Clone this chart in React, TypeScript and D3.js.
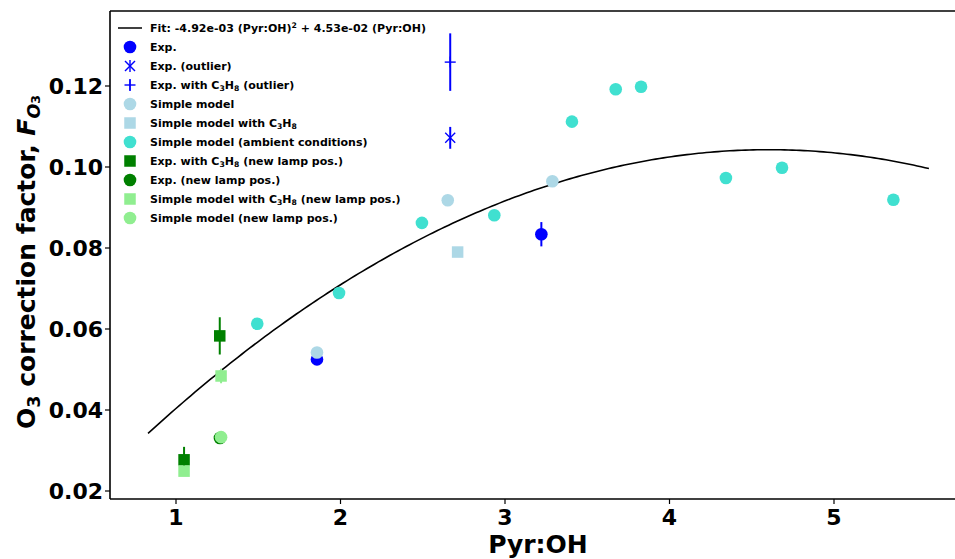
import React from "react";
import * as d3 from "d3";

// ---- data ----
const fitA = -4.92e-3;
const fitB = 4.53e-2;
const fitXRange = [0.83, 5.577];

const expX = [1.857, 3.221];
const expY = [0.0525, 0.0834];
const expErr = [0, 0.003];

const outlierX = [2.667];
const outlierY = [0.1072];
const outlierErr = [0.0027];

const outlierC3H8X = [2.667];
const outlierC3H8Y = [0.1259];
const outlierC3H8Err = [0.0071];

const simpleX = [1.857, 2.652, 3.288];
const simpleY = [0.0542, 0.0918, 0.0965];

const simpleC3H8X = [2.712];
const simpleC3H8Y = [0.079];

const ambientX = [1.494, 1.991, 2.495, 2.935, 3.407, 3.673, 3.827, 4.343, 4.684, 5.361];
const ambientY = [0.0613, 0.0689, 0.0862, 0.0881, 0.1112, 0.1192, 0.1198, 0.0973, 0.0998, 0.0919];

const expC3H8NewX = [1.049, 1.266];
const expC3H8NewY = [0.0277, 0.0583];
const expC3H8NewErr = [0.0032, 0.0046];

const expNewX = [1.267];
const expNewY = [0.0331];

const simpleC3H8NewX = [1.049, 1.274];
const simpleC3H8NewY = [0.0249, 0.0484];
const simpleC3H8NewErr = [0, 0.0018];

const simpleNewX = [1.274];
const simpleNewY = [0.0333];

const xTicks = [1, 2, 3, 4, 5];
const yTicks = [0.02, 0.04, 0.06, 0.08, 0.1, 0.12];

// ---- layout ----
const W = 955;
const H = 559;
const left = 110;
const top = 11;
const bottom = 499;
const right = 955;

const x = d3.scaleLinear().domain([1, 5]).range([176, 834]);
const y = d3.scaleLinear().domain([0.02, 0.12]).range([491, 86]);

const BLUE = "#0000ff";
const LIGHTBLUE = "#add8e6";
const TURQ = "#40e0d0";
const GREEN = "#008000";
const LIGHTGREEN = "#90ee90";

const FONT = "'DejaVu Sans', sans-serif";
const R = 6.3;
const SQ = 11.5;

function Circle({ cx, cy, color }: any) {
  return <circle cx={cx} cy={cy} r={R} fill={color} />;
}
function Square({ cx, cy, color }: any) {
  return <rect x={cx - SQ / 2} y={cy - SQ / 2} width={SQ} height={SQ} fill={color} />;
}
function XMark({ cx, cy, color }: any) {
  const s = 5;
  return (
    <g stroke={color} strokeWidth={1.4}>
      <line x1={cx - s} y1={cy - s} x2={cx + s} y2={cy + s} />
      <line x1={cx - s} y1={cy + s} x2={cx + s} y2={cy - s} />
    </g>
  );
}
function PlusMark({ cx, cy, color }: any) {
  const s = 5.5;
  return (
    <g stroke={color} strokeWidth={1.4}>
      <line x1={cx - s} y1={cy} x2={cx + s} y2={cy} />
      <line x1={cx} y1={cy - s} x2={cx} y2={cy + s} />
    </g>
  );
}
function ErrBar({ xv, yv, e, color }: any) {
  if (!e) return null;
  return (
    <line x1={x(xv)} x2={x(xv)} y1={y(yv - e)} y2={y(yv + e)} stroke={color} strokeWidth={2} />
  );
}

function Sub({ children }: any) {
  return (
    <tspan baselineShift="-25%" fontSize="70%">
      {children}
    </tspan>
  );
}

function C3H8() {
  return (
    <>
      <tspan>C</tspan>
      <Sub>3</Sub>
      <tspan>H</tspan>
      <Sub>8</Sub>
    </>
  );
}

export default function App() {
  const fitPts = d3.range(0, 201).map((i) => {
    const xv = fitXRange[0] + ((fitXRange[1] - fitXRange[0]) * i) / 200;
    return [xv, fitA * xv * xv + fitB * xv] as [number, number];
  });
  const line = d3
    .line<[number, number]>()
    .x((d) => x(d[0]))
    .y((d) => y(d[1]));

  const legendItems: { key: string; label: React.ReactNode; handle: (cx: number, cy: number) => React.ReactNode }[] = [
    {
      key: "fit",
      label: (
        <>
          <tspan>Fit: -4.92e-03 (Pyr:OH)</tspan>
          <tspan baselineShift="super" fontSize="70%">2</tspan>
          <tspan> + 4.53e-02 (Pyr:OH)</tspan>
        </>
      ),
      handle: (cx, cy) => <line x1={cx - 12} x2={cx + 12} y1={cy} y2={cy} stroke="#000" strokeWidth={1.5} />,
    },
    { key: "exp", label: "Exp.", handle: (cx, cy) => <Circle cx={cx} cy={cy} color={BLUE} /> },
    {
      key: "out",
      label: "Exp. (outlier)",
      handle: (cx, cy) => (
        <g>
          <line x1={cx} x2={cx} y1={cy - 6} y2={cy + 6} stroke={BLUE} strokeWidth={1.4} />
          <XMark cx={cx} cy={cy} color={BLUE} />
        </g>
      ),
    },
    {
      key: "outc",
      label: (
        <>
          <tspan>Exp. with </tspan>
          <C3H8 />
          <tspan> (outlier)</tspan>
        </>
      ),
      handle: (cx, cy) => (
        <g>
          <line x1={cx} x2={cx} y1={cy - 6} y2={cy + 6} stroke={BLUE} strokeWidth={1.4} />
          <PlusMark cx={cx} cy={cy} color={BLUE} />
        </g>
      ),
    },
    { key: "sm", label: "Simple model", handle: (cx, cy) => <Circle cx={cx} cy={cy} color={LIGHTBLUE} /> },
    {
      key: "smc",
      label: (
        <>
          <tspan>Simple model with </tspan>
          <C3H8 />
        </>
      ),
      handle: (cx, cy) => <Square cx={cx} cy={cy} color={LIGHTBLUE} />,
    },
    {
      key: "amb",
      label: "Simple model (ambient conditions)",
      handle: (cx, cy) => <Circle cx={cx} cy={cy} color={TURQ} />,
    },
    {
      key: "ecn",
      label: (
        <>
          <tspan>Exp. with </tspan>
          <C3H8 />
          <tspan> (new lamp pos.)</tspan>
        </>
      ),
      handle: (cx, cy) => <Square cx={cx} cy={cy} color={GREEN} />,
    },
    { key: "en", label: "Exp. (new lamp pos.)", handle: (cx, cy) => <Circle cx={cx} cy={cy} color={GREEN} /> },
    {
      key: "scn",
      label: (
        <>
          <tspan>Simple model with </tspan>
          <C3H8 />
          <tspan> (new lamp pos.)</tspan>
        </>
      ),
      handle: (cx, cy) => <Square cx={cx} cy={cy} color={LIGHTGREEN} />,
    },
    {
      key: "sn",
      label: "Simple model (new lamp pos.)",
      handle: (cx, cy) => <Circle cx={cx} cy={cy} color={LIGHTGREEN} />,
    },
  ];

  return (
    <svg
      width={W}
      height={H}
      style={{ position: "absolute", left: 0, top: 0, background: "#fff" }}
      fontFamily={FONT}
    >
      <rect x={0} y={0} width={W} height={H} fill="#fff" />
      <defs>
        <clipPath id="plot">
          <rect x={left} y={top} width={right - left} height={bottom - top} />
        </clipPath>
      </defs>

      <g clipPath="url(#plot)">
        <path d={line(fitPts) || ""} fill="none" stroke="#000" strokeWidth={1.6} />

        {expX.map((xv, i) => (
          <g key={"e" + i}>
            <ErrBar xv={xv} yv={expY[i]} e={expErr[i]} color={BLUE} />
            <Circle cx={x(xv)} cy={y(expY[i])} color={BLUE} />
          </g>
        ))}
        {outlierX.map((xv, i) => (
          <g key={"o" + i}>
            <ErrBar xv={xv} yv={outlierY[i]} e={outlierErr[i]} color={BLUE} />
            <XMark cx={x(xv)} cy={y(outlierY[i])} color={BLUE} />
          </g>
        ))}
        {outlierC3H8X.map((xv, i) => (
          <g key={"oc" + i}>
            <ErrBar xv={xv} yv={outlierC3H8Y[i]} e={outlierC3H8Err[i]} color={BLUE} />
            <PlusMark cx={x(xv)} cy={y(outlierC3H8Y[i])} color={BLUE} />
          </g>
        ))}
        {simpleX.map((xv, i) => (
          <Circle key={"s" + i} cx={x(xv)} cy={y(simpleY[i])} color={LIGHTBLUE} />
        ))}
        {simpleC3H8X.map((xv, i) => (
          <Square key={"sc" + i} cx={x(xv)} cy={y(simpleC3H8Y[i])} color={LIGHTBLUE} />
        ))}
        {ambientX.map((xv, i) => (
          <Circle key={"a" + i} cx={x(xv)} cy={y(ambientY[i])} color={TURQ} />
        ))}
        {expC3H8NewX.map((xv, i) => (
          <g key={"ecn" + i}>
            <ErrBar xv={xv} yv={expC3H8NewY[i]} e={expC3H8NewErr[i]} color={GREEN} />
            <Square cx={x(xv)} cy={y(expC3H8NewY[i])} color={GREEN} />
          </g>
        ))}
        {expNewX.map((xv, i) => (
          <Circle key={"en" + i} cx={x(xv)} cy={y(expNewY[i])} color={GREEN} />
        ))}
        {simpleC3H8NewX.map((xv, i) => (
          <g key={"scn" + i}>
            <ErrBar xv={xv} yv={simpleC3H8NewY[i]} e={simpleC3H8NewErr[i]} color={LIGHTGREEN} />
            <Square cx={x(xv)} cy={y(simpleC3H8NewY[i])} color={LIGHTGREEN} />
          </g>
        ))}
        {simpleNewX.map((xv, i) => (
          <Circle key={"sn" + i} cx={x(xv)} cy={y(simpleNewY[i])} color={LIGHTGREEN} />
        ))}
      </g>

      {/* spines */}
      <g stroke="#000" strokeWidth={1.6} fill="none">
        <line x1={left} x2={right} y1={top} y2={top} />
        <line x1={left} x2={right} y1={bottom} y2={bottom} />
        <line x1={left} x2={left} y1={top} y2={bottom} />
      </g>

      {/* y ticks */}
      {yTicks.map((t) => (
        <g key={"yt" + t}>
          <line x1={left - 5} x2={left} y1={y(t)} y2={y(t)} stroke="#000" strokeWidth={1.2} />
          <text
            x={left - 7}
            y={y(t)}
            dy="0.36em"
            textAnchor="end"
            fontSize={22}
            fontWeight="bold"
          >
            {d3.format(".2f")(t)}
          </text>
        </g>
      ))}

      {/* x ticks */}
      {xTicks.map((t) => (
        <g key={"xt" + t}>
          <line x1={x(t)} x2={x(t)} y1={bottom} y2={bottom + 5} stroke="#000" strokeWidth={1.2} />
          <text x={x(t)} y={525} textAnchor="middle" fontSize={22} fontWeight="bold">
            {t}
          </text>
        </g>
      ))}

      {/* axis labels */}
      <text x={538} y={553} textAnchor="middle" fontSize={25} fontWeight="bold">
        Pyr:OH
      </text>
      <text
        transform={`translate(35, 262) rotate(-90)`}
        textAnchor="middle"
        fontSize={25}
        fontWeight="bold"
      >
        <tspan>O</tspan>
        <tspan baselineShift="-25%" fontSize="70%">3</tspan>
        <tspan> correction factor, </tspan>
        <tspan fontStyle="italic">F</tspan>
        <tspan baselineShift="-25%" fontSize="70%" fontStyle="italic">O</tspan>
        <tspan baselineShift="-35%" fontSize="50%">3</tspan>
      </text>

      {/* legend */}
      {legendItems.map((it, i) => {
        const cy = 28 + i * 19;
        return (
          <g key={it.key}>
            {it.handle(130, cy)}
            <text x={150} y={cy} dy="0.36em" fontSize={11} fontWeight="bold">
              {it.label}
            </text>
          </g>
        );
      })}
    </svg>
  );
}
